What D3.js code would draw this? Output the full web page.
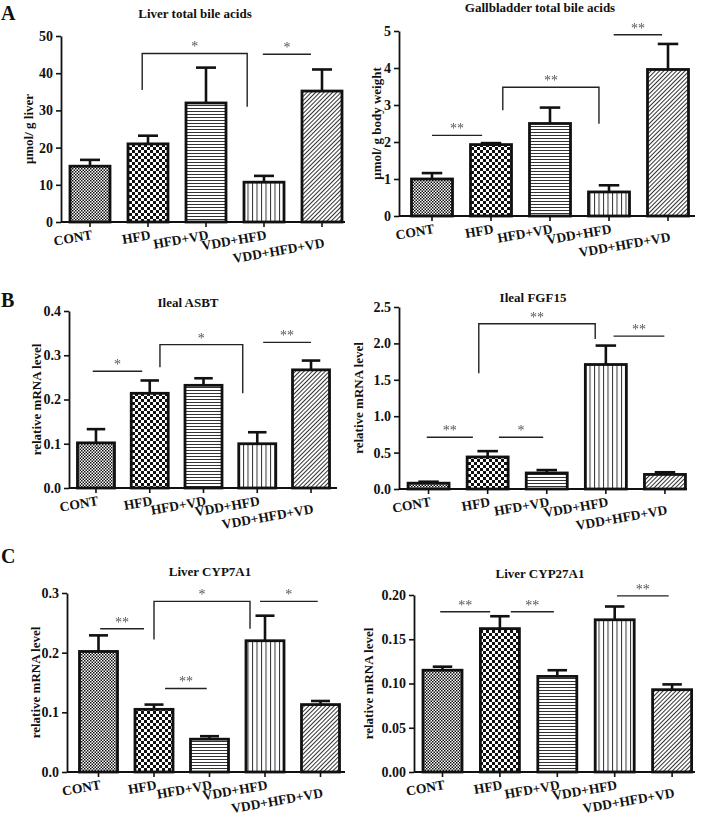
<!DOCTYPE html>
<html><head><meta charset="utf-8">
<script src="https://cdn.jsdelivr.net/npm/d3@7"></script>
<style>
body{margin:0;background:#fff}
svg{display:block}
text{font-family:"Liberation Serif","Times New Roman",serif;font-weight:bold}
</style></head><body>
<svg id="chart" width="701" height="818"></svg>
<script>
// ---------------- DATA ----------------
const categories = ["CONT", "HFD", "HFD+VD", "VDD+HFD", "VDD+HFD+VD"];

const liverTBA      = [15.0, 21.0, 32.0, 10.7, 35.2];
const liverTBAErr   = [1.7, 2.2, 9.5, 1.7, 5.8];
const gallTBA       = [1.00, 1.93, 2.50, 0.65, 3.96];
const gallTBAErr    = [0.16, 0.04, 0.43, 0.18, 0.69];
const ilealASBT     = [0.102, 0.214, 0.232, 0.100, 0.267];
const ilealASBTErr  = [0.031, 0.029, 0.016, 0.026, 0.021];
const ilealFGF15    = [0.08, 0.44, 0.22, 1.71, 0.20];
const ilealFGF15Err = [0.02, 0.08, 0.04, 0.26, 0.03];
const liverCYP7A1   = [0.202, 0.105, 0.055, 0.220, 0.113];
const liverCYP7A1Err= [0.027, 0.008, 0.005, 0.042, 0.006];
const liverCYP27A1  = [0.115, 0.162, 0.108, 0.172, 0.093];
const liverCYP27A1Err=[0.004, 0.014, 0.007, 0.015, 0.006];

const ticksLiverTBA  = [0, 10, 20, 30, 40, 50];
const ticksGallTBA   = [0, 1, 2, 3, 4, 5];
const ticksASBT      = [0.0, 0.1, 0.2, 0.3, 0.4];
const ticksFGF15     = [0.0, 0.5, 1.0, 1.5, 2.0, 2.5];
const ticksCYP7A1    = [0.0, 0.1, 0.2, 0.3];
const ticksCYP27A1   = [0.00, 0.05, 0.10, 0.15, 0.20];

// significance marks: type, category-index positions, y in data units, leg ends
const sigLiverTBA = [
  {type:"bracket", from:0.90, to:2.71, y:45.3, legs:[35.5, 31.0], label:"*"},
  {type:"line", from:2.98, to:3.81, y:45.1, label:"*"}
];
const sigGallTBA = [
  {type:"line", from:0.0, to:0.85, y:2.18, label:"**"},
  {type:"bracket", from:1.20, to:2.83, y:3.48, legs:[2.86, 2.49], label:"**"},
  {type:"line", from:3.08, to:3.90, y:4.90, label:"**"}
];
const sigASBT = [
  {type:"line", from:-0.06, to:0.86, y:0.264, label:"*"},
  {type:"bracket", from:1.19, to:2.73, y:0.324, legs:[0.273, 0.214], label:"*"},
  {type:"line", from:3.11, to:4.0, y:0.329, label:"**"}
];
const sigFGF15 = [
  {type:"line", from:-0.03, to:0.75, y:0.71, label:"**"},
  {type:"line", from:1.19, to:1.94, y:0.71, label:"*"},
  {type:"bracket", from:0.85, to:2.82, y:2.27, legs:[1.59, 2.06], label:"**"},
  {type:"line", from:3.13, to:3.99, y:2.10, label:"**"}
];
const sigCYP7A1 = [
  {type:"line", from:0.03, to:0.82, y:0.240, label:"**"},
  {type:"line", from:1.20, to:1.95, y:0.140, label:"**"},
  {type:"bracket", from:1.0, to:2.73, y:0.286, legs:[0.222, 0.240], label:"*"},
  {type:"line", from:2.91, to:3.95, y:0.286, label:"*"}
];
const sigCYP27A1 = [
  {type:"line", from:-0.04, to:0.83, y:0.181, label:"**"},
  {type:"line", from:1.19, to:1.94, y:0.181, label:"**"},
  {type:"line", from:3.04, to:3.94, y:0.199, label:"**"}
];

// ---------------- LAYOUT ----------------
const panels = [
  {title:"Liver total bile acids", ylabel:"\u03bcmol/ g liver", values:liverTBA, errs:liverTBAErr, ticks:ticksLiverTBA, fmt:d3.format("d"), sig:sigLiverTBA,
   axisX:61, axisEnd:345, y0:222, yTop:36, range:[61,351], barW:40, titleX:195, titleY:18, ylabX:30, letter:"A", letterY:20},
  {title:"Gallbladder total bile acids", ylabel:"\u03bcmol/ g body weight", values:gallTBA, errs:gallTBAErr, ticks:ticksGallTBA, fmt:d3.format("d"), sig:sigGallTBA,
   axisX:399, axisEnd:695, y0:216, yTop:31, range:[402.5,697.5], barW:41, titleX:540, titleY:12, ylabX:378},
  {title:"Ileal ASBT", ylabel:"relative mRNA level", values:ilealASBT, errs:ilealASBTErr, ticks:ticksASBT, fmt:d3.format(".1f"), sig:sigASBT,
   axisX:69, axisEnd:337, y0:488, yTop:311, range:[69.1,337.9], barW:37, titleX:188, titleY:307, ylabX:38, letter:"B", letterY:307},
  {title:"Ileal FGF15", ylabel:"relative mRNA level", values:ilealFGF15, errs:ilealFGF15Err, ticks:ticksFGF15, fmt:d3.format(".1f"), sig:sigFGF15,
   axisX:399, axisEnd:687, y0:489, yTop:307, range:[399,694.5], barW:41, titleX:533, titleY:302, ylabX:360},
  {title:"Liver CYP7A1", ylabel:"relative mRNA level", values:liverCYP7A1, errs:liverCYP7A1Err, ticks:ticksCYP7A1, fmt:d3.format(".1f"), sig:sigCYP7A1,
   axisX:67, axisEnd:345, y0:772, yTop:593, range:[70.75,348.25], barW:38, titleX:210, titleY:576, ylabX:37, letter:"C", letterY:563},
  {title:"Liver CYP27A1", ylabel:"relative mRNA level", values:liverCYP27A1, errs:liverCYP27A1Err, ticks:ticksCYP27A1, fmt:d3.format(".2f"), sig:sigCYP27A1,
   axisX:414, axisEnd:695, y0:772, yTop:595, range:[413.8,700.8], barW:39, titleX:540, titleY:578, ylabX:370}
];

const svg = d3.select("#chart");
const defs = svg.append("defs");
// identity filter (rasterises text in grayscale)
defs.append("filter").attr("id","gray").attr("x","-20%").attr("y","-50%").attr("width","140%").attr("height","200%")
  .append("feOffset").attr("dx",0).attr("dy",0);

// fill patterns, one per group
function pat(id, w, h, draw, transform){
  const p = defs.append("pattern").attr("id", id).attr("patternUnits","userSpaceOnUse")
    .attr("width", w).attr("height", h);
  if (transform) p.attr("patternTransform", transform);
  p.append("rect").attr("width", w).attr("height", h).attr("fill", "#fff");
  draw(p);
}
pat("p0", 3, 3, p => {
  p.append("rect").attr("x",0).attr("y",0).attr("width",1.5).attr("height",1.5).attr("fill","#111");
  p.append("rect").attr("x",1.5).attr("y",1.5).attr("width",1.5).attr("height",1.5).attr("fill","#111");
});
pat("p1", 6, 6, p => {
  p.append("rect").attr("x",0).attr("y",0).attr("width",3).attr("height",3).attr("fill","#111");
  p.append("rect").attr("x",3).attr("y",3).attr("width",3).attr("height",3).attr("fill","#111");
});
pat("p2", 4, 3, p => {
  p.append("rect").attr("x",0).attr("y",0).attr("width",4).attr("height",1).attr("fill","#333");
});
pat("p3", 4.5, 4, p => {
  p.append("rect").attr("x",0).attr("y",0).attr("width",1).attr("height",4).attr("fill","#333");
});
pat("p4", 3, 3, p => {
  p.append("rect").attr("x",0).attr("y",0).attr("width",1).attr("height",3).attr("fill","#333");
}, "rotate(45)");
const fills = ["url(#p0)","url(#p1)","url(#p2)","url(#p3)","url(#p4)"];

panels.forEach(P => {
  const g = svg.append("g");
  const x = d3.scaleBand().domain(categories).range(P.range).paddingInner(0).paddingOuter(0);
  const cx = d => x(d) + x.bandwidth()/2;
  const xi = d3.scaleLinear().domain([0, categories.length-1]).range([cx(categories[0]), cx(categories[categories.length-1])]);
  const y = d3.scaleLinear().domain([0, d3.max(P.ticks)]).range([P.y0, P.yTop]);
  const rows = categories.map((c,i) => ({c, v:P.values[i], e:P.errs[i], i}));

  // error bars
  const eb = g.append("g").attr("stroke","#111").attr("stroke-width",2.6).attr("fill","none");
  eb.selectAll("line.v").data(rows).join("line").attr("class","v")
    .attr("x1", d=>cx(d.c)).attr("x2", d=>cx(d.c)).attr("y1", d=>y(d.v)).attr("y2", d=>y(d.v+d.e));
  eb.selectAll("line.h").data(rows).join("line").attr("class","h")
    .attr("x1", d=>cx(d.c)-P.barW/4).attr("x2", d=>cx(d.c)+P.barW/4).attr("y1", d=>y(d.v+d.e)).attr("y2", d=>y(d.v+d.e));

  // bars
  g.append("g").selectAll("rect").data(rows).join("rect")
    .attr("x", d=>cx(d.c)-P.barW/2).attr("width", P.barW)
    .attr("y", d=>y(d.v)).attr("height", d=>P.y0 - y(d.v))
    .attr("fill", d=>fills[d.i]).attr("stroke","#111").attr("stroke-width",2.8);

  // y axis
  const ya = g.append("g").attr("transform",`translate(${P.axisX},0)`)
    .call(d3.axisLeft(y).tickValues(P.ticks).tickFormat(P.fmt).tickSize(5).tickSizeOuter(0).tickPadding(3));
  ya.select(".domain").attr("stroke","#111").attr("stroke-width",1.8);
  ya.selectAll(".tick line").attr("stroke","#111").attr("stroke-width",1.6);
  ya.selectAll(".tick text").style("font-family",'"Liberation Serif",serif').style("font-weight","bold")
    .style("font-size","14px").style("fill","#111");

  // x axis
  const xa = g.append("g").attr("transform",`translate(0,${P.y0})`)
    .call(d3.axisBottom(x).tickSize(5).tickSizeOuter(0).tickFormat(""));
  xa.select(".domain").remove();
  xa.selectAll(".tick line").attr("stroke","#111").attr("stroke-width",1.6);
  g.append("line").attr("x1",P.axisX).attr("x2",P.axisEnd).attr("y1",P.y0).attr("y2",P.y0)
    .attr("stroke","#111").attr("stroke-width",1.8);
  g.append("g").selectAll("text").data(rows).join("text")
    .attr("text-anchor","end").style("font-size","13.5px").style("fill","#111")
    .attr("transform", d => `translate(${cx(d.c)+3},${P.y0 + 17 + (d.i===4?8:0)}) rotate(-10)`)
    .text(d=>d.c);

  // significance
  const sg = g.append("g").attr("filter","url(#gray)");
  P.sig.forEach(s => {
    const x1 = xi(s.from), x2 = xi(s.to), yy = y(s.y);
    if (s.type === "bracket") {
      sg.append("path").attr("d", `M${x1},${y(s.legs[0])}V${yy}H${x2}V${y(s.legs[1])}`)
        .attr("fill","none").attr("stroke","#222").attr("stroke-width",1.4);
    } else {
      sg.append("line").attr("x1",x1).attr("x2",x2).attr("y1",yy).attr("y2",yy)
        .attr("stroke","#222").attr("stroke-width",1.4);
    }
    sg.append("text").attr("x",(x1+x2)/2).attr("y",yy-2).attr("text-anchor","middle")
      .style("font-size","14px").style("font-weight","normal").style("fill","#555").text(s.label);
  });

  // title & y label
  g.append("text").attr("x",P.titleX).attr("y",P.titleY).attr("text-anchor","middle")
    .style("font-size","13px").style("fill","#111").text(P.title);
  g.append("text").attr("transform",`translate(${P.ylabX},${(P.y0+P.yTop)/2}) rotate(-90)`)
    .attr("text-anchor","middle").attr("dominant-baseline","middle").style("font-size","13px").style("fill","#111").text(P.ylabel);
  if (P.letter) {
    svg.append("text").attr("x",1).attr("y",P.letterY).style("font-size","20px").style("fill","#111").text(P.letter);
  }
});
</script>
</body></html>
